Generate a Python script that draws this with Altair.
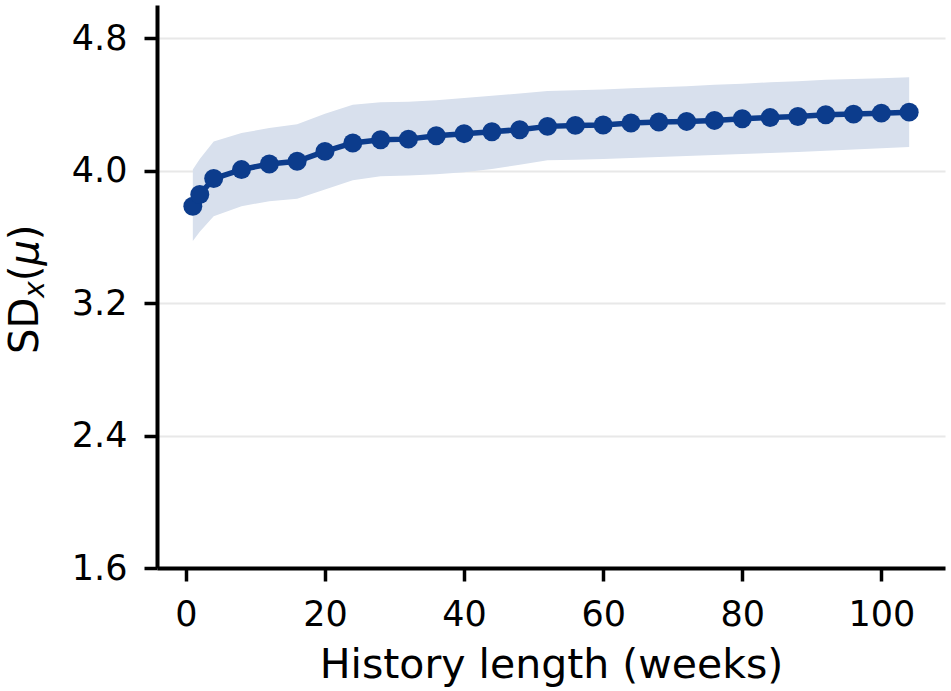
import altair as alt
import pandas as pd

# History length in weeks and the SD estimate with its uncertainty band
weeks = [1, 2, 4, 8, 12, 16, 20, 24, 28, 32, 36, 40, 44, 48, 52, 56,
         60, 64, 68, 72, 76, 80, 84, 88, 92, 96, 100, 104]
sd_mean = [3.785, 3.856, 3.952, 4.006, 4.040, 4.056, 4.116, 4.167, 4.186,
           4.190, 4.210, 4.223, 4.235, 4.247, 4.267, 4.273, 4.275, 4.287,
           4.293, 4.297, 4.303, 4.313, 4.320, 4.327, 4.337, 4.341, 4.347,
           4.353]
sd_upper = [4.006, 4.070, 4.176, 4.227, 4.257, 4.280, 4.343, 4.397, 4.413,
            4.415, 4.425, 4.438, 4.452, 4.466, 4.480, 4.485, 4.490, 4.497,
            4.503, 4.510, 4.518, 4.525, 4.533, 4.540, 4.548, 4.553, 4.558,
            4.564]
sd_lower = [3.575, 3.630, 3.725, 3.785, 3.815, 3.830, 3.886, 3.942, 3.966,
            3.970, 3.978, 3.990, 4.010, 4.035, 4.062, 4.066, 4.070, 4.076,
            4.082, 4.088, 4.094, 4.100, 4.106, 4.112, 4.120, 4.128, 4.135,
            4.142]

x_ticks = [0, 20, 40, 60, 80, 100]
y_ticks = [1.6, 2.4, 3.2, 4.0, 4.8]

df = pd.DataFrame({"weeks": weeks, "mean": sd_mean,
                   "upper": sd_upper, "lower": sd_lower})

DARK = "#0c3c8c"
BAND = "#d8e0ed"
FONT = "DejaVu Sans"

x_enc = alt.X("weeks:Q",
              scale=alt.Scale(domain=[-4.15, 109.15], nice=False, zero=False),
              axis=alt.Axis(values=x_ticks, grid=False,
                            title="History length (weeks)",
                            titlePadding=13))
y_scale = alt.Scale(domain=[1.6, 5.0], nice=False, zero=False)
y_axis = alt.Axis(values=y_ticks, format=".1f", grid=True, title=None)

band = alt.Chart(df).mark_area(color=BAND, opacity=1).encode(
    x=x_enc,
    y=alt.Y("lower:Q", scale=y_scale, axis=y_axis),
    y2="upper:Q",
)
line = alt.Chart(df).mark_line(color=DARK, strokeWidth=5.5).encode(
    x="weeks:Q", y="mean:Q")
dots = alt.Chart(df).mark_circle(color=DARK, size=360, opacity=1).encode(
    x="weeks:Q", y="mean:Q")

# Rotated y-axis title "SD_x(μ)" assembled from styled pieces
one = pd.DataFrame({"k": [0]})


def title_piece(text, y, x, size, style):
    return alt.Chart(one).mark_text(
        text=text, angle=270, align="left", baseline="alphabetic",
        font=FONT, fontSize=size, fontStyle=style, color="black",
    ).encode(x=alt.value(x), y=alt.value(y))


base_x = -119
sub_x = -113
start = 349
pieces = [
    ("SD", 0.0, base_x, 40, "normal"),
    ("x", 56.2, sub_x, 28, "italic"),
    ("(", 72.8, base_x, 40, "normal"),
    ("μ", 88.4, base_x, 40, "italic"),
    (")", 113.8, base_x, 40, "normal"),
]
title_layers = [title_piece(t, start - off, xx, s, st)
                for t, off, xx, s, st in pieces]

chart = alt.layer(band, line, dots, *title_layers).properties(
    width=788, height=563,
    autosize=alt.AutoSizeParams(type="none"),
    padding={"left": 157, "top": 5, "right": 6, "bottom": 123},
).configure_view(stroke=None).configure_axis(
    labelFont=FONT, titleFont=FONT,
    labelFontSize=35, titleFontSize=41,
    titleFontWeight="normal",
    labelColor="black", titleColor="black",
    domainColor="black", domainWidth=4,
    tickColor="black", tickWidth=3.5, tickSize=13,
    gridColor="#e8e8e8", gridWidth=2,
).configure_axisX(labelPadding=16).configure_axisY(labelPadding=17)

chart.save("out.html", embed_options={"renderer": "svg", "actions": False})
